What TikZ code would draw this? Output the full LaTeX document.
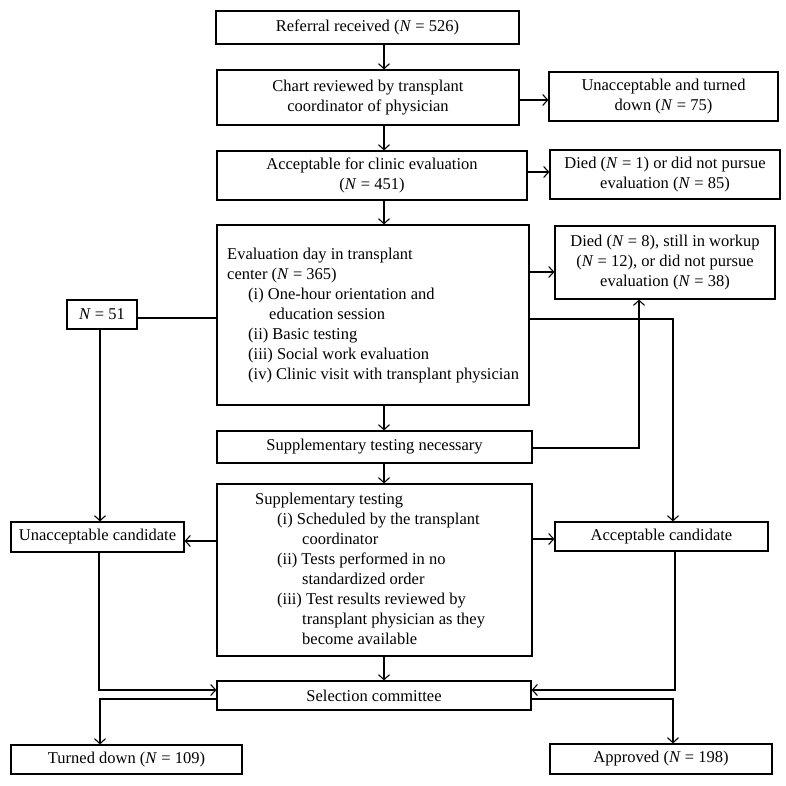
\documentclass[tikz,border=0pt]{standalone}
\usepackage{fontspec}
\usetikzlibrary{arrows.meta}
\setmainfont{Liberation Serif}
\newcommand{\NN}{\textit{N}}
\begin{document}
\begin{tikzpicture}[x=1pt,y=-1pt,
  box/.style={draw=black, line width=1.2pt, inner sep=0pt, align=center,
    font=\fontsize{16.5}{20}\selectfont},
  txt/.style={inner sep=0pt, align=left, anchor=north west,
    font=\fontsize{16.5}{20}\selectfont},
  conn/.style={draw=black, line width=1.3pt},
  arr/.style={conn, -{Straight Barb[length=5pt,width=11pt,line width=1.1pt]}}]
\useasboundingbox (0,0) rectangle (786,785);
\fill[white] (0,0) rectangle (786,785);
% boxes
\node[box, minimum width=303pt, minimum height=33pt] (ref) at (367.5,27.5) {Referral received (\NN{} = 526)};
\node[box, minimum width=302pt, minimum height=55pt] (chart) at (368,97.5) {Chart reviewed by transplant\\coordinator of physician};
\node[box, minimum width=229pt, minimum height=49pt] (unac) at (663.5,96.5) {Unacceptable and turned\\down (\NN{} = 75)};
\node[box, minimum width=310pt, minimum height=49pt] (acc) at (372,175.5) {Acceptable for clinic evaluation\\(\NN{} = 451)};
\node[box, minimum width=230pt, minimum height=49pt] (died1) at (665,174.5) {Died (\NN{} = 1) or did not pursue\\evaluation (\NN{} = 85)};
\node[box, minimum width=312pt, minimum height=180pt] (eval) at (373,315) {};
\node[txt] (evaltxt) at (227,248) {Evaluation day in transplant\\
center (\NN{} = 365)\\
\hspace*{21pt}(i) One-hour orientation and\\
\hspace*{42pt}education session\\
\hspace*{21pt}(ii) Basic testing\\
\hspace*{21pt}(iii) Social work evaluation\\
\hspace*{21pt}(iv) Clinic visit with transplant physician};
\node[box, minimum width=220pt, minimum height=73pt] (died8) at (665,262.5) {Died (\NN{} = 8), still in workup\\(\NN{} = 12), or did not pursue\\evaluation (\NN{} = 38)};
\node[box, minimum width=70pt, minimum height=29pt] (n51) at (102,314.5) {\NN{} = 51};
\node[box, minimum width=315pt, minimum height=32pt] (snec) at (374.5,447) {Supplementary testing necessary};
\node[box, minimum width=315pt, minimum height=172pt] (supp) at (374.5,570) {};
\node[txt] (supptxt) at (255,493) {Supplementary testing\\
\hspace*{22pt}(i) Scheduled by the transplant\\
\hspace*{47pt}coordinator\\
\hspace*{22pt}(ii) Tests performed in no\\
\hspace*{47pt}standardized order\\
\hspace*{22pt}(iii) Test results reviewed by\\
\hspace*{47pt}transplant physician as they\\
\hspace*{47pt}become available};
\node[box, minimum width=173pt, minimum height=30pt] (unc) at (97.5,537) {Unacceptable candidate};
\node[box, minimum width=213pt, minimum height=29pt] (acc2) at (661.5,536.5) {Acceptable candidate};
\node[box, minimum width=314pt, minimum height=29pt] (sel) at (374,695.5) {Selection committee};
\node[box, minimum width=231pt, minimum height=29pt] (turn) at (126.5,759.5) {Turned down (\NN{} = 109)};
\node[box, minimum width=222pt, minimum height=30pt] (appr) at (661,759) {Approved (\NN{} = 198)};
% helper coordinates
\coordinate (spine) at (384,0);
\coordinate (r1) at (673,319);
\coordinate (r2) at (639,448);
\coordinate (y272) at (0,272);
\coordinate (y541) at (0,541);
\coordinate (y539) at (0,539);
\coordinate (y690) at (0,690);
\coordinate (y699) at (0,699);
\coordinate (xl) at (99,0);
\coordinate (xr) at (675,0);
% connectors
\draw[arr] (ref.south -| spine) -- (chart.north -| spine);
\draw[arr] (chart.south -| spine) -- (acc.north -| spine);
\draw[arr] (acc.south -| spine) -- (eval.north -| spine);
\draw[arr] (eval.south -| spine) -- (snec.north -| spine);
\draw[arr] (snec.south -| spine) -- (supp.north -| spine);
\draw[arr] (supp.south -| spine) -- (sel.north -| spine);
\draw[arr] (chart.east |- 0,100) -- (unac.west |- 0,100);
\draw[arr] (acc.east |- 0,172) -- (died1.west |- 0,172);
\draw[arr] (eval.east |- y272) -- (died8.west |- y272);
\draw[conn] (n51.east |- 0,318) -- (eval.west |- 0,318);
\draw[arr] (n51.south -| 100,0) -- (unc.north -| 100,0);
\draw[arr] (eval.east |- r1) -- (r1) -- (acc2.north -| r1);
\draw[arr] (snec.east |- r2) -- (r2) -- (died8.south -| r2);
\draw[arr] (supp.west |- y541) -- (unc.east |- y541);
\draw[arr] (supp.east |- y539) -- (acc2.west |- y539);
\draw[arr] (unc.south -| xl) -- (xl |- y690) -- (sel.west |- y690);
\draw[arr] (acc2.south -| xr) -- (xr |- y690) -- (sel.east |- y690);
\draw[arr] (sel.west |- y699) -- (100,699) -- (turn.north -| 100,0);
\draw[arr] (sel.east |- y699) -- (673,699) -- (appr.north -| 673,0);
\end{tikzpicture}
\end{document}
